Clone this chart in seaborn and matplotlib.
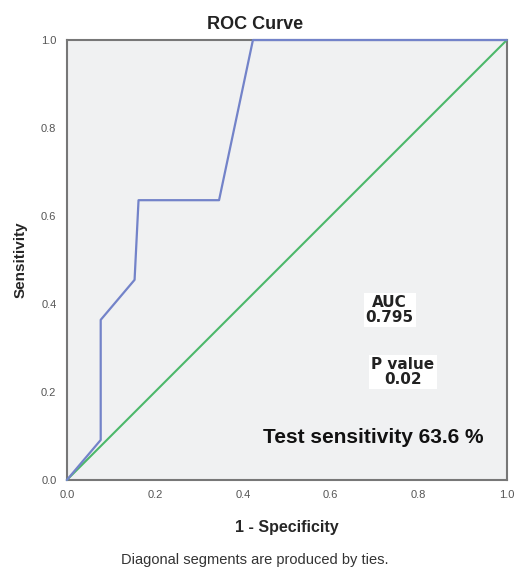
import matplotlib
matplotlib.use("Agg")
import matplotlib.pyplot as plt
import seaborn as sns
import pandas as pd

fpr = [0.0, 0.077, 0.077, 0.154, 0.163, 0.346, 0.423, 1.0]
tpr = [0.0, 0.091, 0.364, 0.455, 0.636, 0.636, 1.0, 1.0]
ref_x = [0.0, 1.0]
ref_y = [0.0, 1.0]
ticks = [0.0, 0.2, 0.4, 0.6, 0.8, 1.0]
tick_labels = ["0.0", "0.2", "0.4", "0.6", "0.8", "1.0"]

roc = pd.DataFrame({"fpr": fpr, "tpr": tpr})
ref = pd.DataFrame({"x": ref_x, "y": ref_y})

sns.set_style("white")
plt.rcParams['font.family'] = ['Liberation Sans', 'DejaVu Sans']

fig = plt.figure(figsize=(5.14, 5.67), dpi=100)
ax = fig.add_axes([0.130, 0.1534, 0.856, 0.776])
ax.set_facecolor("#f0f1f2")

sns.lineplot(data=ref, x="x", y="y", ax=ax, color="#4cb86a", lw=1.5,
             sort=False, estimator=None, clip_on=False, zorder=3)
sns.lineplot(data=roc, x="fpr", y="tpr", ax=ax, color="#7383c9", lw=1.6,
             sort=False, estimator=None, clip_on=False, zorder=4)

ax.set_xlim(0, 1)
ax.set_ylim(0, 1)
ax.set_xticks(ticks)
ax.set_xticklabels(tick_labels)
ax.set_yticks(ticks)
ax.set_yticklabels(tick_labels)
ax.tick_params(axis="both", labelsize=8, labelcolor="#555555", length=4,
               width=1.2, color="#555555", direction="out")
for s in ax.spines.values():
    s.set_color("#777777")
    s.set_linewidth(1.5)
    s.set_zorder(2)

ax.set_xlabel("1 - Specificity", fontsize=11.5, fontweight="bold", labelpad=14)
ax.set_ylabel("Sensitivity", fontsize=11, fontweight="bold", labelpad=10)
fig.text(0.497, 0.956, "ROC Curve", ha="center", va="center", fontsize=13,
         fontweight="bold", color="#222222")

box = dict(facecolor="white", edgecolor="none", pad=1.5)
ax.text(0.734, 0.386, "AUC\n0.795", ha="center", va="center", fontsize=11,
        fontweight="bold", color="#222222", linespacing=1.0, bbox=box,
        family=["DejaVu Sans"])
ax.text(0.764, 0.245, "P value\n0.02", ha="center", va="center", fontsize=11,
        fontweight="bold", color="#222222", linespacing=1.0, bbox=box,
        family=["DejaVu Sans"])
ax.text(0.697, 0.097, "Test sensitivity 63.6 %", ha="center", va="center",
        fontsize=15, fontweight="bold", color="#111111")

fig.text(0.495, 0.0125, "Diagonal segments are produced by ties.", ha="center",
         va="center", fontsize=10.5, color="#333333")

fig.savefig("out.png", dpi=100)
